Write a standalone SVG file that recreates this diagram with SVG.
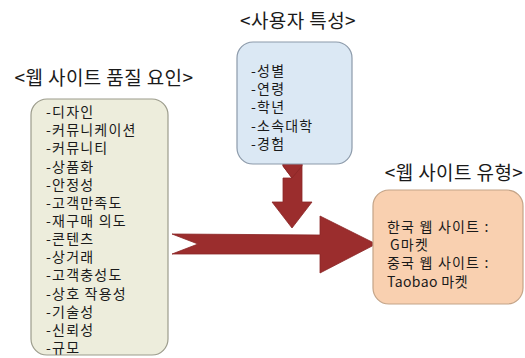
<svg xmlns="http://www.w3.org/2000/svg" width="525" height="358" viewBox="0 0 525 358">
<style>
text{font-family:"Noto Sans CJK KR","Liberation Sans",sans-serif;fill:#1a1a1a}
.t{font-size:19px;text-anchor:middle;letter-spacing:0.4px}
.i{font-size:14px;letter-spacing:1.2px}
.arrow{fill:#9b2d2d;stroke:#8a2626;stroke-width:0.8}
</style>
<rect width="525" height="358" fill="#ffffff"/>
<g id="connectors">
<polygon class="arrow" points="283,160 302,160 302,202 312,202 292,228 272,202 283,202 283,178 292,178 283,166"/>
<polygon class="arrow" points="283,160 302,160 302,166 292,178 283,166"/>
<polygon class="arrow" points="172,234 320,235 320,216 376,244 320,273 320,254 172,254 198,244"/>
</g>
<g id="quality">
<text class="t" x="104" y="85">&lt;웹 사이트 품질 요인&gt;</text>
<rect x="31" y="99" width="137" height="256" rx="16" fill="#ededdc" stroke="#9c9c8c" stroke-width="1.2"/>
<text class="i" x="46" y="117">-디자인</text>
<text class="i" x="46" y="135.2">-커뮤니케이션</text>
<text class="i" x="46" y="153.3">-커뮤니티</text>
<text class="i" x="46" y="171.5">-상품화</text>
<text class="i" x="46" y="189.6">-안정성</text>
<text class="i" x="46" y="207.8">-고객만족도</text>
<text class="i" x="46" y="225.9">-재구매 의도</text>
<text class="i" x="46" y="244.1">-콘텐츠</text>
<text class="i" x="46" y="262.2">-상거래</text>
<text class="i" x="46" y="280.4">-고객충성도</text>
<text class="i" x="46" y="298.5">-상호 작용성</text>
<text class="i" x="46" y="316.7">-기술성</text>
<text class="i" x="46" y="334.8">-신뢰성</text>
<text class="i" x="46" y="353">-규모</text>
</g>
<g id="user">
<text class="t" x="298" y="28">&lt;사용자 특성&gt;</text>
<rect x="237" y="42" width="115" height="122" rx="16" fill="#dbe8f4" stroke="#8c9aaa" stroke-width="1.2"/>
<text class="i" x="251" y="76">-성별</text>
<text class="i" x="251" y="94.2">-연령</text>
<text class="i" x="251" y="112.4">-학년</text>
<text class="i" x="251" y="130.6">-소속대학</text>
<text class="i" x="251" y="148.8">-경험</text>
</g>
<g id="sitetype">
<text class="t" x="454" y="180">&lt;웹 사이트 유형&gt;</text>
<rect x="373" y="190" width="150" height="114" rx="16" fill="#f9d0b0" stroke="#c4a488" stroke-width="1.2"/>
<text class="i" x="387" y="232">한국 웹 사이트 :</text>
<text class="i" x="390" y="250.2">G마켓</text>
<text class="i" x="387" y="268.4">중국 웹 사이트 :</text>
<text class="i" x="387" y="286.6" style="letter-spacing:0.4px">Taobao 마켓</text>
</g>
</svg>
